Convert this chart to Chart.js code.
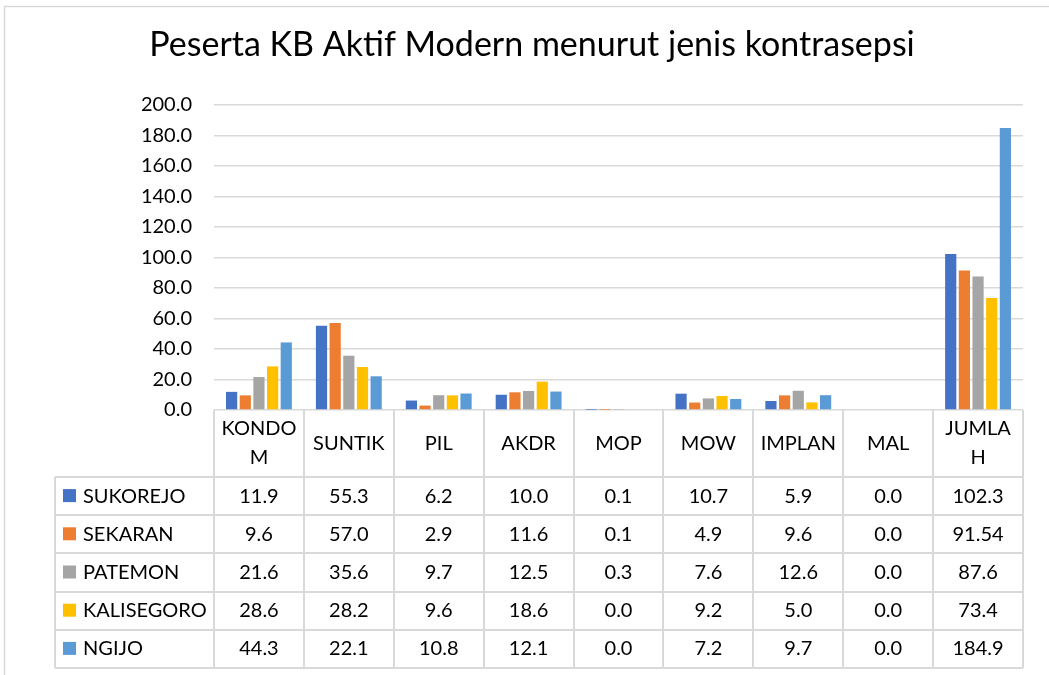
<!DOCTYPE html>
<html>
<head>
<meta charset="utf-8">
<script src="https://cdn.jsdelivr.net/npm/chart.js@4.4.1/dist/chart.umd.min.js"></script>
<style>
  html, body { margin: 0; padding: 0; background: #fff; }
  #wrap { width: 1049px; height: 675px; position: relative; }
</style>
</head>
<body>
<div id="wrap"><canvas id="kbChart" width="1049" height="675"></canvas></div>
<script>
// Data
const chartTitle = "Peserta KB Aktif Modern menurut jenis kontrasepsi";
const categories = ["KONDOM", "SUNTIK", "PIL", "AKDR", "MOP", "MOW", "IMPLAN", "MAL", "JUMLAH"];
// how the header cells wrap in the table
const headerLines = [["KONDO", "M"], ["SUNTIK"], ["PIL"], ["AKDR"], ["MOP"], ["MOW"], ["IMPLAN"], ["MAL"], ["JUMLA", "H"]];
const seriesNames = ["SUKOREJO", "SEKARAN", "PATEMON", "KALISEGORO", "NGIJO"];
const sukorejo = [11.9, 55.3, 6.2, 10.0, 0.1, 10.7, 5.9, 0.0, 102.3];
const sekaran = [9.6, 57.0, 2.9, 11.6, 0.1, 4.9, 9.6, 0.0, 91.54];
const patemon = [21.6, 35.6, 9.7, 12.5, 0.3, 7.6, 12.6, 0.0, 87.6];
const kalisegoro = [28.6, 28.2, 9.6, 18.6, 0.0, 9.2, 5.0, 0.0, 73.4];
const ngijo = [44.3, 22.1, 10.8, 12.1, 0.0, 7.2, 9.7, 0.0, 184.9];
const seriesColors = ["#4472C4", "#ED7D31", "#A5A5A5", "#FFC000", "#5B9BD5"];

const FONT = "Lato, 'Open Sans', sans-serif";
const TEXT = "#000000";
const LINE = "#d9d9d9";

// Excel shows one decimal unless the value has more
function fmt(v) {
    const t = v * 10;
    if (Math.abs(t - Math.round(t)) < 1e-9) return v.toFixed(1);
    return String(v);
}

const allSeries = [sukorejo, sekaran, patemon, kalisegoro, ngijo];

// draws the title, outer frame and the data table under the plot
const tablePlugin = {
    id: "dataTable",
    afterDraw(chart) {
        const ctx = chart.ctx;
        const x = chart.scales.x;
        const area = chart.chartArea;
        const colW = x.getPixelForValue(1) - x.getPixelForValue(0);
        const headerH = 67;
        const rowH = 38.2;
        const tableLeft = 55;
        const top = area.bottom;
        const headerBottom = top + headerH;
        const tableBottom = headerBottom + rowH * seriesNames.length;

        ctx.save();

        // outer frame
        ctx.strokeStyle = LINE;
        ctx.lineWidth = 1.5;
        ctx.strokeRect(4.5, 6.5, 1080, 700);

        // title
        ctx.fillStyle = TEXT;
        ctx.font = "34px " + FONT;
        ctx.textAlign = "center";
        ctx.textBaseline = "alphabetic";
        ctx.fillText(chartTitle, 532, 56);

        // table lines
        ctx.strokeStyle = LINE;
        ctx.lineWidth = 2;
        ctx.beginPath();
        for (let i = 0; i <= categories.length; i++) {
            const px = Math.round(area.left + i * colW);
            ctx.moveTo(px, top);
            ctx.lineTo(px, tableBottom);
        }
        ctx.moveTo(tableLeft, headerBottom);
        ctx.lineTo(tableLeft, tableBottom);
        for (let r = 0; r <= seriesNames.length; r++) {
            const py = Math.round(headerBottom + r * rowH);
            ctx.moveTo(tableLeft, py);
            ctx.lineTo(area.right, py);
        }
        ctx.stroke();

        // header labels
        ctx.fillStyle = TEXT;
        ctx.font = "20px " + FONT;
        ctx.textAlign = "center";
        ctx.textBaseline = "middle";
        headerLines.forEach((lines, i) => {
            const cx = x.getPixelForValue(i);
            const midY = top + headerH / 2;
            const lh = 29;
            lines.forEach((ln, k) => {
                const y = midY + (k - (lines.length - 1) / 2) * lh;
                ctx.fillText(ln, cx, y);
            });
        });

        // rows: legend key + values
        seriesNames.forEach((name, r) => {
            const cy = headerBottom + r * rowH + rowH / 2;
            ctx.fillStyle = seriesColors[r];
            ctx.fillRect(63, cy - 7, 13, 13);
            ctx.fillStyle = TEXT;
            ctx.textAlign = "left";
            ctx.fillText(name, 83, cy);
            ctx.textAlign = "center";
            allSeries[r].forEach((v, i) => {
                ctx.fillText(fmt(v), x.getPixelForValue(i), cy);
            });
        });

        ctx.restore();
    }
};

const datasets = seriesNames.map((name, i) => ({
    label: name,
    data: allSeries[i],
    backgroundColor: seriesColors[i],
    borderWidth: 0,
    categoryPercentage: 0.76,
    barPercentage: 0.82,
}));

new Chart(document.getElementById("kbChart").getContext("2d"), {
    type: "bar",
    data: { labels: categories, datasets: datasets },
    plugins: [tablePlugin],
    options: {
        responsive: false,
        animation: false,
        layout: { padding: { left: 0, right: 26, top: 105, bottom: 265 } },
        plugins: {
            legend: { display: false },
            title: { display: false },
            tooltip: { enabled: false },
        },
        scales: {
            x: { display: false },
            y: {
                min: 0,
                max: 200,
                afterFit: (scale) => { scale.width = 214; },
                border: { display: false },
                grid: { color: LINE, lineWidth: 1.5, drawTicks: false },
                ticks: {
                    stepSize: 20,
                    padding: 22,
                    color: TEXT,
                    font: { family: FONT, size: 20 },
                    callback: (v) => v.toFixed(1),
                },
            },
        },
    },
});
</script>
</body>
</html>
